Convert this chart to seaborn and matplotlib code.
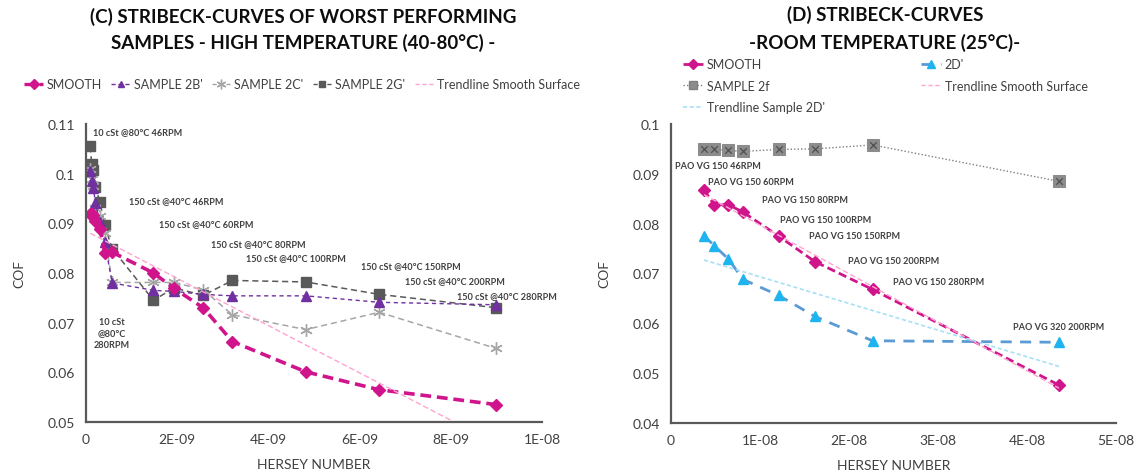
import numpy as np
import pandas as pd
import matplotlib
matplotlib.use("Agg")
import matplotlib.pyplot as plt
import seaborn as sns
from matplotlib.lines import Line2D

# ---------------- data: chart (C) ----------------
hersey_c_e9 = [0.094, 0.123, 0.164, 0.205, 0.307, 0.41, 0.574,
               1.48, 1.93, 2.57, 3.21, 4.82, 6.43, 9.0]
smooth_c = [0.0918, 0.0919, 0.0916, 0.0905, 0.0889, 0.0841, 0.0842,
            0.0800, 0.0769, 0.0730, 0.0662, 0.0601, 0.0565, 0.0535]
sample2b_c = [0.1006, 0.0985, 0.0972, 0.0940, 0.0903, 0.0862, 0.0780,
              0.0765, 0.0763, 0.0757, 0.0754, 0.0754, 0.0741, 0.0736]
sample2c_c = [0.1010, 0.0990, 0.0975, 0.0930, 0.0915, 0.0880, 0.0781,
              0.0781, 0.0781, 0.0766, 0.0716, 0.0686, 0.0721, 0.0648]
sample2g_c = [0.1055, 0.1020, 0.1008, 0.0973, 0.0943, 0.0896, 0.0849,
              0.0745, 0.0770, 0.0755, 0.0785, 0.0782, 0.0757, 0.0730]
xticks_c = [0, 2e-9, 4e-9, 6e-9, 8e-9, 1e-8]
xticklabels_c = ["0", "2E-09", "4E-09", "6E-09", "8E-09", "1E-08"]
yticks_c = [0.05, 0.06, 0.07, 0.08, 0.09, 0.10, 0.11]
yticklabels_c = ["0.05", "0.06", "0.07", "0.08", "0.09", "0.1", "0.11"]
labels_c = ["10 cSt @80°C 46RPM", "150 cSt @40°C 46RPM", "150 cSt @40°C 60RPM",
            "150 cSt @40°C 80RPM", "150 cSt @40°C 100RPM", "150 cSt @40°C 150RPM",
            "150 cSt @40°C 200RPM", "150 cSt @40°C 280RPM", "10 cSt\n@80°C\n280RPM"]

# ---------------- data: chart (D) ----------------
hersey_d_e8 = [0.37, 0.485, 0.645, 0.81, 1.21, 1.615, 2.265, 4.36]
smooth_d = [0.0868, 0.0838, 0.0838, 0.0823, 0.0775, 0.0724, 0.0668, 0.0476]
sample2d_d = [0.0776, 0.0756, 0.0729, 0.0688, 0.0656, 0.0614, 0.0565, 0.0562]
sample2f_d = [0.0949, 0.0949, 0.0947, 0.0945, 0.0949, 0.0950, 0.0958, 0.0885]
xticks_d = [0, 1e-8, 2e-8, 3e-8, 4e-8, 5e-8]
xticklabels_d = ["0", "1E-08", "2E-08", "3E-08", "4E-08", "5E-08"]
yticks_d = [0.04, 0.05, 0.06, 0.07, 0.08, 0.09, 0.10]
yticklabels_d = ["0.04", "0.05", "0.06", "0.07", "0.08", "0.09", "0.1"]
labels_d = ["PAO VG 150 46RPM", "PAO VG 150 60RPM", "PAO VG 150 80RPM",
            "PAO VG 150 100RPM", "PAO VG 150 150RPM", "PAO VG 150 200RPM",
            "PAO VG 150 280RPM", "PAO VG 320 200RPM"]

# ---------------- style ----------------
sns.set_theme(style="white")
plt.rcParams["font.family"] = ["Lato", "DejaVu Sans"]

MAG = "#D0158C"
PURPLE = "#7030A0"
LGRAY = "#A6A6A6"
DGRAY = "#595959"
PINK = "#FFA3D1"
BLUE_M = "#1EB4F0"
BLUE_L = "#5B9BD5"
BLUE_T = "#A8E0F7"
TXT = "#404040"

W, H = 1138, 477
fig = plt.figure(figsize=(W / 100, H / 100), dpi=100)

def frac(x0, x1, y0, y1):
    return [x0 / W, 1 - y1 / H, (x1 - x0) / W, (y1 - y0) / H]

axC = fig.add_axes(frac(86, 542, 125, 423))
axD = fig.add_axes(frac(671, 1116, 125, 424))

xc = np.array(hersey_c_e9) * 1e-9
xd = np.array(hersey_d_e8) * 1e-8

def line(ax, x, y, color, marker, ms, lw, ls, mec=None):
    sns.lineplot(x=x, y=y, ax=ax, color=color, marker=marker, markersize=ms,
                 markeredgecolor=mec or color, markerfacecolor=mec or color,
                 markeredgewidth=1.0, linewidth=lw, linestyle=ls,
                 sort=False, estimator=None, errorbar=None, legend=False)

# ---- chart C ----
line(axC, xc, sample2g_c, DGRAY, "s", 7, 1.1, (0, (4, 2.5)))
line(axC, xc, sample2c_c, LGRAY, (6, 2, 0), 9, 1.1, (0, (4, 2.5)))
line(axC, xc, sample2b_c, PURPLE, "^", 7, 1.0, (0, (3, 2.5)))
line(axC, xc, smooth_c, MAG, "D", 6.5, 2.6, (0, (3, 1.6)))
kc = np.polyfit(xc, smooth_c, 1)
tx = np.array([xc.min(), xc.max()])
sns.lineplot(x=tx, y=np.polyval(kc, tx), ax=axC, color=PINK, linewidth=1.0,
             linestyle=(0, (4, 2)), estimator=None, errorbar=None, legend=False)

axC.set_xlim(0, 1e-8)
axC.set_ylim(0.05, 0.11)
axC.set_xticks(xticks_c)
axC.set_xticklabels(xticklabels_c)
axC.set_yticks(yticks_c)
axC.set_yticklabels(yticklabels_c)

# label positions (px -> data)
pos_c = [(93, 133), (129, 202), (159, 225), (211, 245), (246, 259),
         (361, 267), (405, 282), (457, 297)]
for txt, (px, py) in zip(labels_c[:-1], pos_c):
    axC.text((px - 86) / 45.6 * 1e-9, 0.05 + (423 - py) / 4960, txt,
             ha="left", va="center", fontsize=6.6, fontweight="bold",
             color=TXT, clip_on=False)
axC.text((112 - 86) / 45.6 * 1e-9, 0.05 + (423 - 334) / 4960, labels_c[-1],
         ha="center", va="center", fontsize=6.6, fontweight="bold",
         color=TXT, linespacing=1.4)

# ---- chart D ----
sns.lineplot(x=xd, y=sample2f_d, ax=axD, color="#808080", marker="s",
             markersize=8, markeredgecolor="#8C8C8C", markerfacecolor="#8C8C8C",
             linewidth=1.0, linestyle=(0, (1, 1.5)), sort=False,
             estimator=None, errorbar=None, legend=False)
sns.scatterplot(x=xd, y=sample2f_d, ax=axD, color="#505050", marker="x",
                s=22, linewidth=0.9, legend=False, zorder=5)
line(axD, xd, sample2d_d, BLUE_L, "^", 7.5, 2.0, (0, (4, 3)), mec=BLUE_M)
line(axD, xd, smooth_d, MAG, "D", 6.5, 2.0, (0, (3, 1.5)))
kd1 = np.polyfit(xd, smooth_d, 1)
kd2 = np.polyfit(xd, sample2d_d, 1)
txd = np.array([xd.min(), xd.max()])
sns.lineplot(x=txd, y=np.polyval(kd1, txd), ax=axD, color=PINK, linewidth=1.0,
             linestyle=(0, (4, 2)), estimator=None, errorbar=None, legend=False)
sns.lineplot(x=txd, y=np.polyval(kd2, txd), ax=axD, color=BLUE_T, linewidth=1.2,
             linestyle=(0, (2.5, 1.5)), estimator=None, errorbar=None, legend=False)

axD.set_xlim(0, 5e-8)
axD.set_ylim(0.04, 0.10)
axD.set_xticks(xticks_d)
axD.set_xticklabels(xticklabels_d)
axD.set_yticks(yticks_d)
axD.set_yticklabels(yticklabels_d)

pos_d = [(675, 167), (708, 183), (762, 201), (780, 221), (809, 237),
         (848, 262), (893, 283), (1013, 328)]
for txt, (px, py) in zip(labels_d, pos_d):
    axD.text((px - 671) / 89 * 1e-8, 0.04 + (424 - py) / 4983, txt,
             ha="left", va="center", fontsize=6.6, fontweight="bold",
             color=TXT, clip_on=False)

# ---- common axis styling ----
for ax in (axC, axD):
    sns.despine(ax=ax)
    for s in ("left", "bottom"):
        ax.spines[s].set_color(DGRAY)
        ax.spines[s].set_linewidth(1.6)
    ax.tick_params(axis="both", length=0, labelsize=10, labelcolor=TXT, pad=8)
    ax.set_xlabel("HERSEY NUMBER", fontsize=10, color=TXT, labelpad=9)
    ax.set_ylabel("COF", fontsize=10, color=TXT, labelpad=16)
    ax.patch.set_alpha(0)

# ---- titles ----
fig.text(303 / W, 1 - 30 / H, "(C) STRIBECK-CURVES OF WORST PERFORMING\nSAMPLES - HIGH TEMPERATURE (40-80°C) -",
         ha="center", va="center", fontsize=13.5, fontweight="bold",
         color="#0D0D0D", linespacing=1.55)
fig.text(885 / W, 1 - 29 / H, "(D) STRIBECK-CURVES\n-ROOM TEMPERATURE (25°C)-",
         ha="center", va="center", fontsize=13.5, fontweight="bold",
         color="#0D0D0D", linespacing=1.6)

# ---- legends ----
def h(color, marker, ms, lw, ls, mfc=None, mec=None):
    return Line2D([], [], color=color, marker=marker, markersize=ms, linewidth=lw,
                  linestyle=ls, markerfacecolor=mfc or color,
                  markeredgecolor=mec or color)

hc = [h(MAG, "D", 5, 2.4, (0, (3, 1.5))),
      h(PURPLE, "^", 5, 1.0, (0, (3, 2))),
      h(LGRAY, (6, 2, 0), 7, 1.0, (0, (3, 2))),
      h(DGRAY, "s", 5, 1.0, (0, (3, 2))),
      h(PINK, None, 0, 1.0, (0, (3, 2)))]
lc = ["SMOOTH", "SAMPLE 2B'", "SAMPLE 2C'", "SAMPLE 2G'", "Trendline Smooth Surface"]
fig.legend(hc, lc, loc="center left", bbox_to_anchor=(24 / W, 1 - 85 / H),
           ncol=5, frameon=False, fontsize=9, labelcolor=TXT, handlelength=1.55,
           handletextpad=0.25, columnspacing=0.75, borderaxespad=0, borderpad=0)

hd = [h(MAG, "D", 5, 2.0, (0, (3, 1.5))),
      h("#808080", "s", 6, 1.0, (0, (1, 1.5)), mfc="#8C8C8C"),
      h(BLUE_T, None, 0, 1.2, (0, (2.5, 1.5))),
      h(BLUE_L, "^", 6, 2.0, (0, (4, 3)), mfc=BLUE_M, mec=BLUE_M),
      h(PINK, None, 0, 1.0, (0, (3, 2)))]
ld = ["SMOOTH", "SAMPLE 2f", "Trendline Sample 2D'", "2D'", "Trendline Smooth Surface"]
fig.legend(hd, ld, loc="upper left", bbox_to_anchor=(683 / W, 1 - 59 / H),
           ncol=2, frameon=False, fontsize=9, labelcolor=TXT, handlelength=1.6,
           handletextpad=0.3, columnspacing=7.7, borderaxespad=0, borderpad=0,
           labelspacing=0.78)

fig.savefig("out.png", dpi=100)
